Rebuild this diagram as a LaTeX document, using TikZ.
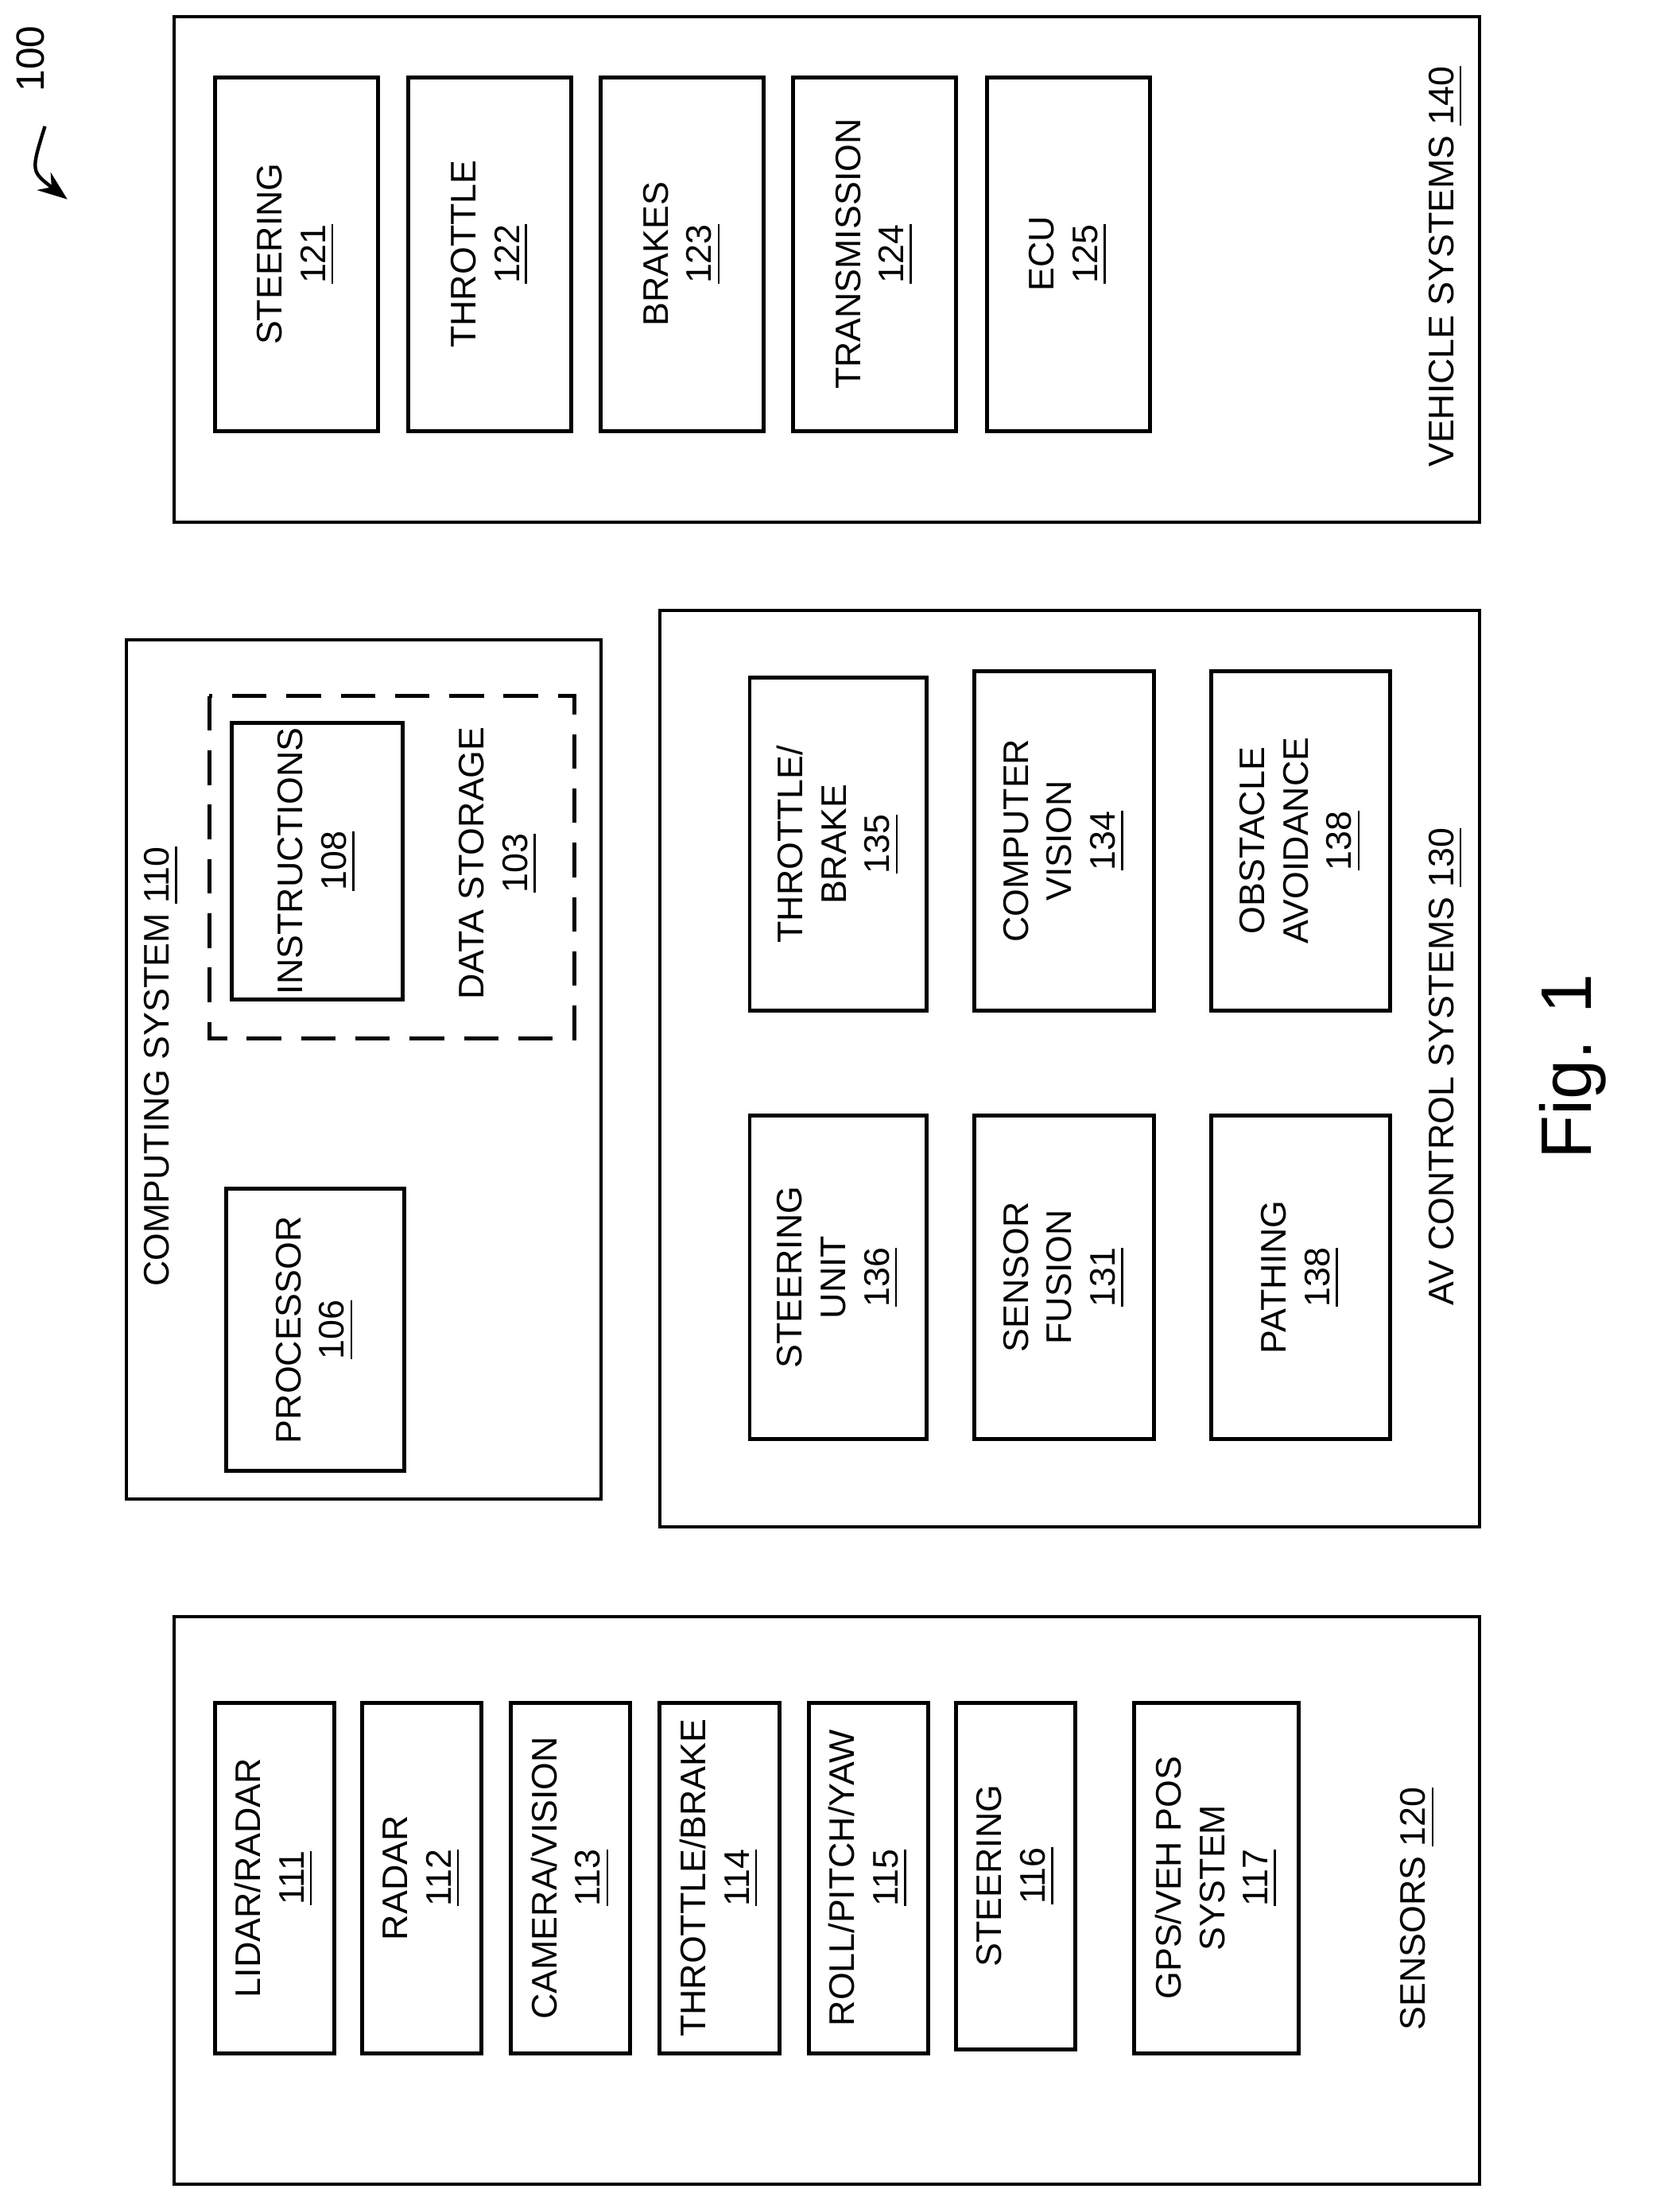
\documentclass[tikz,border=0pt]{standalone}
\usepackage{fontspec}
\setmainfont{Liberation Sans}
\usetikzlibrary{arrows.meta}
\tikzset{
  box/.style={draw,line width=0.8pt},
  lbl/.style={rotate=90,align=center,font=\fontsize{7.2}{8.8}\selectfont},
}
\newcommand{\blk}[6]{%
  \draw[box] (#2,#3) rectangle (#4,#5);
  \node[lbl] (#1) at ({(#2+#4)/2},{(#3+#5)/2}) {#6};}
\begin{document}
\begin{tikzpicture}[x=0.01cm,y=-0.01cm]
\useasboundingbox (0,0) rectangle (1185,1576);
% vehicle systems
\draw[box,line width=0.6pt] (124,12) rectangle (1054,372);
\blk{steer}{153}{55}{269}{307}{STEERING\\\underline{121}}
\blk{thr}{291}{55}{407}{307}{THROTTLE\\\underline{122}}
\blk{brk}{428}{55}{544}{307}{BRAKES\\\underline{123}}
\blk{trans}{565}{55}{681}{307}{TRANSMISSION\\\underline{124}}
\blk{ecu}{703}{55}{819}{307}{ECU\\\underline{125}}
\node[lbl] (vs) at (1030,190) {VEHICLE SYSTEMS \underline{140}};
% computing system
\draw[box,line width=0.6pt] (90,456) rectangle (428,1068);
\node[lbl] (cs) at (115,760) {COMPUTING SYSTEM \underline{110}};
\blk{proc}{161}{847}{288}{1048}{PROCESSOR\\\underline{106}}
\draw[box,dash pattern=on 7pt off 4pt] (149,496) rectangle (409,740);
\blk{instr}{165}{515}{287}{712}{INSTRUCTIONS\\\underline{108}}
\node[lbl] (ds) at (355,615) {DATA STORAGE\\\underline{103}};
% av control systems
\draw[box,line width=0.6pt] (470,435) rectangle (1054,1088);
\node[lbl] (av) at (1030,760) {AV CONTROL SYSTEMS \underline{130}};
\blk{tb}{534}{483}{660}{720}{THROTTLE/\\BRAKE\\\underline{135}}
\blk{cv}{694}{478}{822}{720}{COMPUTER\\VISION\\\underline{134}}
\blk{oa}{863}{478}{990}{720}{OBSTACLE\\AVOIDANCE\\\underline{138}}
\blk{su}{534}{795}{660}{1025}{STEERING\\UNIT\\\underline{136}}
\blk{sf}{694}{795}{822}{1025}{SENSOR\\FUSION\\\underline{131}}
\blk{path}{863}{795}{990}{1025}{PATHING\\\underline{138}}
% sensors
\draw[box,line width=0.6pt] (124,1152) rectangle (1054,1556);
\node[lbl] (sn) at (1010,1360) {SENSORS \underline{120}};
\blk{lidar}{153}{1213}{238}{1463}{LIDAR/RADAR\\\underline{111}}
\blk{radar}{258}{1213}{343}{1463}{RADAR\\\underline{112}}
\blk{cam}{364}{1213}{449}{1463}{CAMERA/VISION\\\underline{113}}
\blk{stb}{470}{1213}{555}{1463}{THROTTLE/BRAKE\\\underline{114}}
\blk{rpy}{576}{1213}{661}{1463}{ROLL/PITCH/YAW\\\underline{115}}
\blk{sst}{681}{1213}{766}{1460}{STEERING\\\underline{116}}
\blk{gps}{808}{1213}{925}{1463}{GPS/VEH POS\\SYSTEM\\\underline{117}}
% figure label
\node[rotate=90,font=\fontsize{14.5}{17}\selectfont] (fig) at (1120,760) {Fig. 1};
\node[lbl,font=\fontsize{8}{10}\selectfont] (ref) at (22,42) {100};
\coordinate (refend) at (48,142);
\draw[line width=0.7pt,-{Stealth[length=6pt]}] (32,90) .. controls (22,122) .. (refend);
\end{tikzpicture}
\end{document}
